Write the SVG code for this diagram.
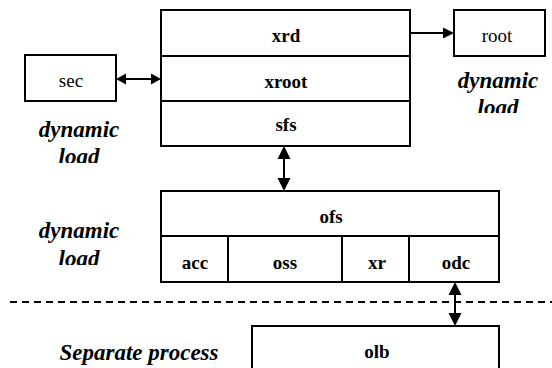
<svg xmlns="http://www.w3.org/2000/svg" width="552" height="368" viewBox="0 0 552 368">
<rect width="552" height="368" fill="#fff"/>
<g id="top">
<rect x="161" y="10" width="249" height="136" fill="#fff" stroke="#000" stroke-width="2"/>
<line x1="161" y1="56" x2="410" y2="56" stroke="#000" stroke-width="2"/>
<line x1="161" y1="101" x2="410" y2="101" stroke="#000" stroke-width="2"/>
<text x="286" y="42" font-family="Liberation Serif" text-anchor="middle" font-weight="bold" font-size="19">xrd</text>
<text x="286" y="88" font-family="Liberation Serif" text-anchor="middle" font-weight="bold" font-size="19">xroot</text>
<text x="286" y="131" font-family="Liberation Serif" text-anchor="middle" font-weight="bold" font-size="19">sfs</text>
</g>
<g id="sec">
<rect x="25" y="55" width="91" height="46" fill="#fff" stroke="#000" stroke-width="2"/>
<text x="71" y="87" font-family="Liberation Serif" text-anchor="middle" font-size="19">sec</text>
</g>
<g id="root">
<rect x="454" y="10" width="91" height="46" fill="#fff" stroke="#000" stroke-width="2"/>
<text x="497" y="42" font-family="Liberation Serif" text-anchor="middle" font-size="19">root</text>
</g>
<g id="ofs">
<rect x="161" y="191" width="338" height="91" fill="#fff" stroke="#000" stroke-width="2"/>
<line x1="161" y1="236" x2="499" y2="236" stroke="#000" stroke-width="2"/>
<line x1="228" y1="236" x2="228" y2="282" stroke="#000" stroke-width="2"/>
<line x1="342" y1="236" x2="342" y2="282" stroke="#000" stroke-width="2"/>
<line x1="409" y1="236" x2="409" y2="282" stroke="#000" stroke-width="2"/>
<text x="331" y="223" font-family="Liberation Serif" text-anchor="middle" font-weight="bold" font-size="19">ofs</text>
<text x="195" y="269" font-family="Liberation Serif" text-anchor="middle" font-weight="bold" font-size="19">acc</text>
<text x="285" y="269" font-family="Liberation Serif" text-anchor="middle" font-weight="bold" font-size="19">oss</text>
<text x="377" y="269" font-family="Liberation Serif" text-anchor="middle" font-weight="bold" font-size="19">xr</text>
<text x="456" y="269" font-family="Liberation Serif" text-anchor="middle" font-weight="bold" font-size="19">odc</text>
</g>
<g id="olb">
<rect x="252" y="326" width="247" height="50" fill="#fff" stroke="#000" stroke-width="2"/>
<text x="377" y="358" font-family="Liberation Serif" text-anchor="middle" font-weight="bold" font-size="19">olb</text>
</g>
<g id="labels">
<text x="79" y="137" font-family="Liberation Serif" text-anchor="middle" font-weight="bold" font-style="italic" font-size="23">dynamic</text>
<svg x="0" y="140" width="160" height="23" overflow="hidden"><text x="79" y="24" font-family="Liberation Serif" text-anchor="middle" font-weight="bold" font-style="italic" font-size="23">load</text></svg>
<text x="498" y="88" font-family="Liberation Serif" text-anchor="middle" font-weight="bold" font-style="italic" font-size="23">dynamic</text>
<svg x="440" y="91" width="112" height="22" overflow="hidden"><text x="58" y="24" font-family="Liberation Serif" text-anchor="middle" font-weight="bold" font-style="italic" font-size="23">load</text></svg>
<text x="79" y="238" font-family="Liberation Serif" text-anchor="middle" font-weight="bold" font-style="italic" font-size="23">dynamic</text>
<svg x="0" y="241" width="160" height="24" overflow="hidden"><text x="79" y="25" font-family="Liberation Serif" text-anchor="middle" font-weight="bold" font-style="italic" font-size="23">load</text></svg>
<text x="139" y="360" font-family="Liberation Serif" text-anchor="middle" font-weight="bold" font-style="italic" font-size="23">Separate process</text>
</g>
<g id="connectors" stroke="#000" stroke-width="2">
<line x1="10" y1="302" x2="552" y2="302" stroke-dasharray="7,5"/>
<line x1="125" y1="79" x2="152" y2="79"/>
<polygon points="116,79 126,73.5 126,84.5" stroke="none"/>
<polygon points="161,79 151,73.5 151,84.5" stroke="none"/>
<line x1="410" y1="33" x2="446" y2="33"/>
<polygon points="454,33 443,27.5 443,38.5" stroke="none"/>
<line x1="284" y1="157" x2="284" y2="180"/>
<polygon points="284,146 277.5,159 290.5,159" stroke="none"/>
<polygon points="284,191 277.5,178 290.5,178" stroke="none"/>
<line x1="455" y1="293" x2="455" y2="316"/>
<polygon points="455,282 448.5,295 461.5,295" stroke="none"/>
<polygon points="455,326 448.5,313 461.5,313" stroke="none"/>
</g>
</svg>
